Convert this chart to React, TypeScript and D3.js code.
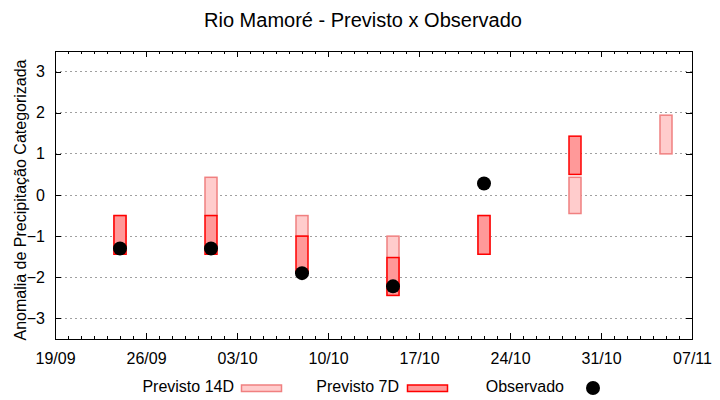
import React, { useEffect, useRef } from 'react';
import * as d3 from 'd3';

// forecast dates (centre of each bar)
const dates = ['2023-09-24', '2023-10-01', '2023-10-08', '2023-10-15', '2023-10-22', '2023-10-29', '2023-11-05'];
const prev14Min: (number | null)[] = [-1.44, -0.5, -1.0, -2.44, -1.44, -0.45, 1.0];
const prev14Max: (number | null)[] = [-0.5, 0.43, -0.5, -1.0, -0.5, 0.43, 1.94];
const prev7Min: (number | null)[] = [-1.44, -1.44, -1.9, -2.44, -1.44, 0.5, null];
const prev7Max: (number | null)[] = [-0.5, -0.5, -1.0, -1.52, -0.5, 1.43, null];
const observed: (number | null)[] = [-1.3, -1.3, -1.9, -2.22, 0.28, null, null];
const yTicks = [-3, -2, -1, 0, 1, 2, 3];

const FONT = '"Liberation Sans", Arial, sans-serif';

const App: React.FC = () => {
  const svgRef = useRef<SVGSVGElement>(null);
  const width = 720;
  const height = 400;

  useEffect(() => {
    if (!svgRef.current) return;
    const svg = d3.select(svgRef.current);
    svg.selectAll('*').remove();

    const margin = { top: 51, right: 28, bottom: 61, left: 55 };
    const innerWidth = width - margin.left - margin.right;
    const innerHeight = height - margin.top - margin.bottom;

    const parse = d3.timeParse('%Y-%m-%d');
    const start = parse('2023-09-19') as Date;
    const end = parse('2023-11-07') as Date;

    const x = d3.scaleTime().domain([start, end]).range([0, innerWidth]);
    const y = d3.scaleLinear().domain([-3.5, 3.5]).range([innerHeight, 0]);

    const g = svg.append('g').attr('transform', `translate(${margin.left},${margin.top})`);

    // Grid
    g.selectAll('.grid')
      .data(yTicks)
      .enter()
      .append('line')
      .attr('x1', 0)
      .attr('x2', innerWidth)
      .attr('y1', d => y(d))
      .attr('y2', d => y(d))
      .attr('stroke', '#a0a0a0')
      .attr('stroke-width', 1)
      .attr('stroke-dasharray', '2,3')
      .attr('shape-rendering', 'crispEdges');

    const days = d3.timeDay.range(start, d3.timeDay.offset(end, 1));
    const majors = d3.timeDay.every(7) ? days.filter((_, i) => i % 7 === 0) : days;
    const fmt = d3.timeFormat('%d/%m');

    // Axes (ticks inward, mirrored)
    const axisStyle = (sel: d3.Selection<SVGGElement, unknown, null, undefined>) => {
      sel.select('.domain').remove();
      sel.selectAll('line').attr('stroke', '#000').attr('shape-rendering', 'crispEdges');
      sel.selectAll('text').style('font-family', FONT).style('font-size', '16px').attr('fill', '#000');
    };

    const xb = g.append('g').attr('transform', `translate(0,${innerHeight})`)
      .call(d3.axisBottom(x).tickValues(majors).tickFormat(d => fmt(d as Date)).tickSize(-6).tickPadding(14));
    axisStyle(xb);
    const xbm = g.append('g').attr('transform', `translate(0,${innerHeight})`)
      .call(d3.axisBottom(x).tickValues(days).tickFormat(() => '').tickSize(-3));
    axisStyle(xbm);
    const xt = g.append('g')
      .call(d3.axisTop(x).tickValues(majors).tickFormat(() => '').tickSize(-6));
    axisStyle(xt);
    const xtm = g.append('g')
      .call(d3.axisTop(x).tickValues(days).tickFormat(() => '').tickSize(-3));
    axisStyle(xtm);

    const yl = g.append('g')
      .call(d3.axisLeft(y).tickValues(yTicks).tickFormat(d3.format('d')).tickSize(-6).tickPadding(10));
    axisStyle(yl);
    const yr = g.append('g').attr('transform', `translate(${innerWidth},0)`)
      .call(d3.axisRight(y).tickValues(yTicks).tickFormat(() => '').tickSize(-6));
    axisStyle(yr);

    // Frame
    g.append('rect')
      .attr('x', 0)
      .attr('y', 0)
      .attr('width', innerWidth)
      .attr('height', innerHeight)
      .attr('fill', 'none')
      .attr('stroke', '#000')
      .attr('stroke-width', 1)
      .attr('shape-rendering', 'crispEdges');

    const rows = dates.map((d, i) => ({
      date: parse(d) as Date,
      p14: [prev14Min[i], prev14Max[i]],
      p7: [prev7Min[i], prev7Max[i]],
      obs: observed[i],
    }));
    const barW = 12;

    // Previsto 14D
    g.selectAll('.p14')
      .data(rows.filter(r => r.p14[0] !== null))
      .enter()
      .append('rect')
      .attr('x', d => x(d.date) - barW / 2)
      .attr('y', d => y(d.p14[1] as number))
      .attr('width', barW)
      .attr('height', d => y(d.p14[0] as number) - y(d.p14[1] as number))
      .attr('fill', '#ffcccc')
      .attr('stroke', '#f08080')
      .attr('stroke-width', 1.5);

    // Previsto 7D
    g.selectAll('.p7')
      .data(rows.filter(r => r.p7[0] !== null))
      .enter()
      .append('rect')
      .attr('x', d => x(d.date) - barW / 2)
      .attr('y', d => y(d.p7[1] as number))
      .attr('width', barW)
      .attr('height', d => y(d.p7[0] as number) - y(d.p7[1] as number))
      .attr('fill', '#ff9999')
      .attr('stroke', '#ff0000')
      .attr('stroke-width', 1.5);

    // Observado
    g.selectAll('.obs')
      .data(rows.filter(r => r.obs !== null))
      .enter()
      .append('circle')
      .attr('cx', d => x(d.date))
      .attr('cy', d => y(d.obs as number))
      .attr('r', 7)
      .attr('fill', '#000');

    // Title
    svg.append('text')
      .attr('x', 363)
      .attr('y', 27)
      .attr('text-anchor', 'middle')
      .style('font-family', FONT)
      .style('font-size', '20px')
      .text('Rio Mamoré - Previsto x Observado');

    // Y label
    svg.append('text')
      .attr('transform', `translate(26,200) rotate(-90)`)
      .attr('text-anchor', 'middle')
      .style('font-family', FONT)
      .style('font-size', '16px')
      .text('Anomalia de Precipitação Categorizada');

    // Legend
    const legend = svg.append('g');
    const txt = (xx: number, s: string) =>
      legend.append('text')
        .attr('x', xx)
        .attr('y', 392)
        .attr('text-anchor', 'end')
        .style('font-family', FONT)
        .style('font-size', '16px')
        .text(s);
    txt(234, 'Previsto 14D');
    legend.append('rect').attr('x', 241.5).attr('y', 385).attr('width', 40).attr('height', 6.5)
      .attr('fill', '#ffcccc').attr('stroke', '#f08080').attr('stroke-width', 1.5);
    txt(399, 'Previsto 7D');
    legend.append('rect').attr('x', 407.5).attr('y', 385).attr('width', 40).attr('height', 6.5)
      .attr('fill', '#ff9999').attr('stroke', '#ff0000').attr('stroke-width', 1.5);
    txt(564, 'Observado');
    legend.append('circle').attr('cx', 593).attr('cy', 388).attr('r', 7).attr('fill', '#000');
  }, []);

  return (
    <div style={{ position: 'absolute', left: 0, top: 0 }}>
      <svg ref={svgRef} width={width} height={height} style={{ display: 'block', background: '#fff' }} />
    </div>
  );
};

export default App;
